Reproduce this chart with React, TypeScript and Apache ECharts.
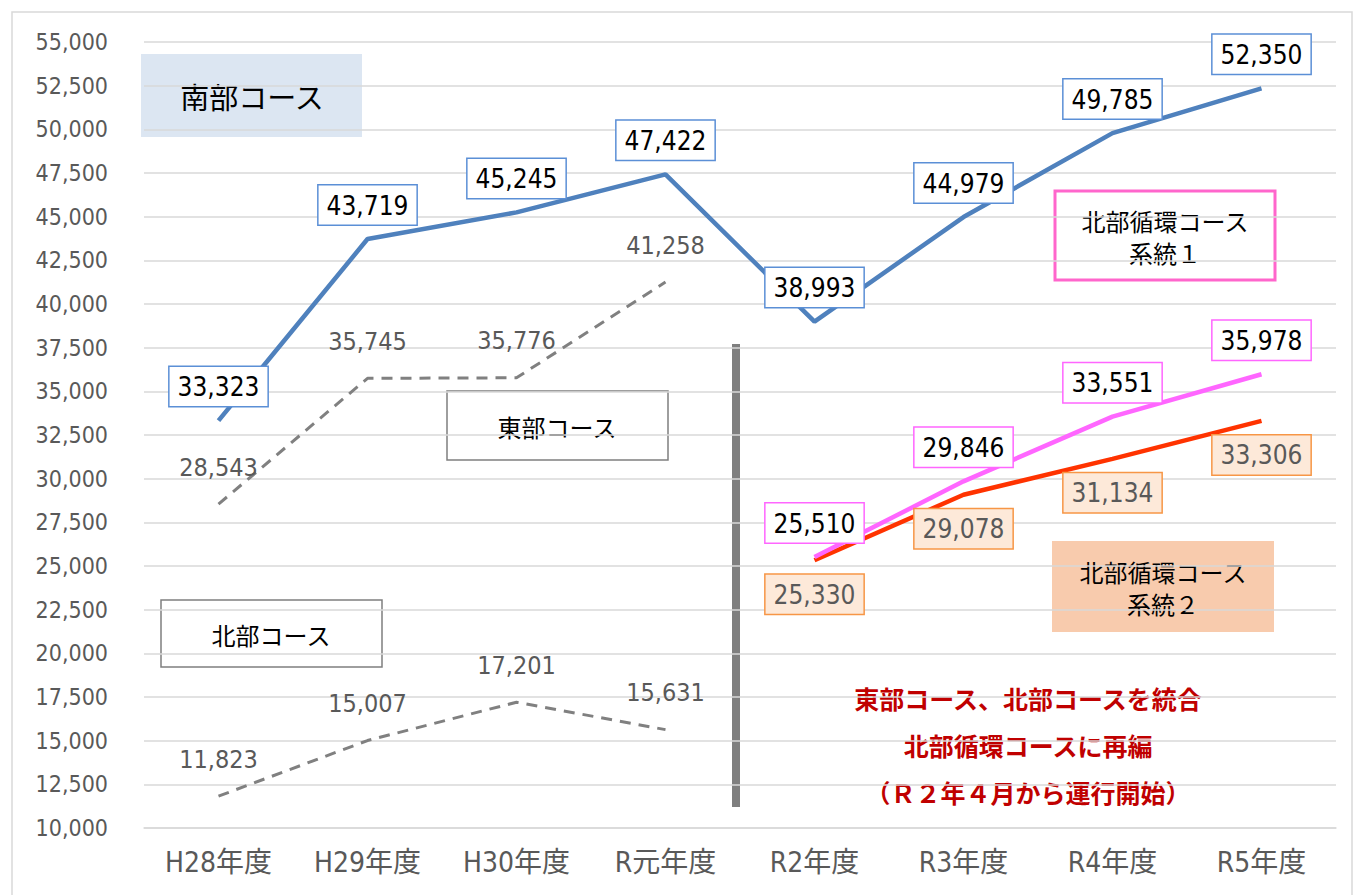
import React, { useEffect, useRef } from "react";
import * as echarts from "echarts";

const categories = ["H28年度", "H29年度", "H30年度", "R元年度", "R2年度", "R3年度", "R4年度", "R5年度"];
const nanbu = [33323, 43719, 45245, 47422, 38993, 44979, 49785, 52350];
const toubu = [28543, 35745, 35776, 41258, "-", "-", "-", "-"];
const hokubu = [11823, 15007, 17201, 15631, "-", "-", "-", "-"];
const keitou1 = ["-", "-", "-", "-", 25510, 29846, 33551, 35978];
const keitou2 = ["-", "-", "-", "-", 25330, 29078, 31134, 33306];

const NUM_FONT = "'Liberation Sans Narrow', 'DejaVu Sans Condensed', 'Noto Sans CJK JP', sans-serif";
const JP_FONT = "'Noto Sans CJK JP', sans-serif";

const fmt = (v: number) => Number(v).toLocaleString("en-US");

export default function App() {
  const ref = useRef<HTMLDivElement>(null);
  useEffect(() => {
    document.body.style.margin = "0";
    const chart = echarts.init(ref.current!, undefined, { renderer: "svg" });
    const boxLabel = (border: string, bg: string, color: string, pos: "top" | "bottom") => ({
      show: true,
      position: pos,
      distance: 14,
      formatter: (p: any) => fmt(p.value),
      backgroundColor: bg,
      borderColor: border,
      borderWidth: 1.5,
      padding: [7, 8, 6, 8],
      color,
      fontSize: 26,
      fontFamily: NUM_FONT,
    });
    const plainLabel = {
      show: true,
      position: "top" as const,
      distance: 24,
      formatter: (p: any) => fmt(p.value),
      color: "#595959",
      fontSize: 25,
      fontFamily: NUM_FONT,
    };
    const sym = { showSymbol: true, symbol: "circle", symbolSize: 1, itemStyle: { color: "rgba(0,0,0,0)" } };
    chart.setOption({
      animation: false,
      backgroundColor: "#fff",
      grid: { left: 144, right: 18, top: 42, bottom: 67 },
      xAxis: {
        type: "category",
        data: categories,
        boundaryGap: true,
        axisLine: { show: true, lineStyle: { color: "#d9d9d9", width: 1.5 } },
        axisTick: { show: false },
        axisLabel: { color: "#595959", fontSize: 28, fontFamily: NUM_FONT, margin: 20 },
      },
      yAxis: {
        type: "value",
        min: 10000,
        max: 55000,
        interval: 2500,
        axisLine: { show: false },
        axisTick: { show: false },
        splitLine: { lineStyle: { color: "#d9d9d9", width: 1.5 } },
        axisLabel: {
          color: "#595959",
          fontSize: 23,
          fontFamily: NUM_FONT,
          margin: 36,
          formatter: (v: number) => fmt(v),
        },
      },
      series: [
        {
          name: "東部",
          type: "line",
          data: toubu,
          ...sym,
          lineStyle: { color: "#808080", width: 3, type: [11, 8] },
          label: plainLabel,
        },
        {
          name: "北部",
          type: "line",
          data: hokubu,
          ...sym,
          lineStyle: { color: "#808080", width: 3, type: [11, 8] },
          label: plainLabel,
        },
        {
          name: "系統2",
          type: "line",
          data: keitou2,
          ...sym,
          lineStyle: { color: "#ff3300", width: 4.5 },
          label: boxLabel("#f79646", "#fde9d9", "#595959", "bottom"),
        },
        {
          name: "系統1",
          type: "line",
          data: keitou1,
          ...sym,
          lineStyle: { color: "#ff66ff", width: 4.5 },
          label: boxLabel("#ff66ff", "#ffffff", "#000000", "top"),
        },
        {
          name: "南部",
          type: "line",
          data: nanbu,
          ...sym,
          lineStyle: { color: "#4f81bd", width: 4.5 },
          label: boxLabel("#5b8fd6", "#ffffff", "#000000", "top"),
        },
      ],
      graphic: [
        {
          type: "rect",
          shape: { x: 12, y: 12, width: 1340, height: 900 },
          style: { fill: "none", stroke: "#d9d9d9", lineWidth: 1.5 },
          silent: true,
        },
        {
          type: "rect",
          shape: { x: 141, y: 54, width: 221, height: 83 },
          style: { fill: "#dce6f2" },
        },
        {
          type: "text",
          x: 252,
          y: 96,
          style: { text: "南部コース", fill: "#000", fontSize: 29, fontFamily: JP_FONT, align: "center", verticalAlign: "middle" },
        },
        {
          type: "rect",
          shape: { x: 447, y: 391, width: 221, height: 69 },
          style: { fill: "#fff", stroke: "#7f7f7f", lineWidth: 1.5 },
        },
        {
          type: "text",
          x: 557,
          y: 426,
          style: { text: "東部コース", fill: "#000", fontSize: 24, fontFamily: JP_FONT, align: "center", verticalAlign: "middle" },
        },
        {
          type: "rect",
          shape: { x: 161, y: 600, width: 221, height: 67 },
          style: { fill: "#fff", stroke: "#7f7f7f", lineWidth: 1.5 },
        },
        {
          type: "text",
          x: 271,
          y: 634,
          style: { text: "北部コース", fill: "#000", fontSize: 24, fontFamily: JP_FONT, align: "center", verticalAlign: "middle" },
        },
        {
          type: "rect",
          shape: { x: 1055, y: 191, width: 220, height: 89 },
          style: { fill: "#fff", stroke: "#ff66cc", lineWidth: 3 },
        },
        {
          type: "text",
          x: 1165,
          y: 236,
          style: {
            text: "北部循環コース\n系統１",
            fill: "#000",
            fontSize: 24,
            lineHeight: 32,
            fontFamily: JP_FONT,
            align: "center",
            verticalAlign: "middle",
          },
        },
        {
          type: "rect",
          shape: { x: 1052, y: 541, width: 222, height: 91 },
          style: { fill: "#f8cbad" },
        },
        {
          type: "text",
          x: 1163,
          y: 587,
          style: {
            text: "北部循環コース\n系統２",
            fill: "#000",
            fontSize: 24,
            lineHeight: 32,
            fontFamily: JP_FONT,
            align: "center",
            verticalAlign: "middle",
          },
        },
        {
          type: "rect",
          shape: { x: 732, y: 344, width: 8, height: 463 },
          style: { fill: "#7f7f7f" },
        },
        {
          type: "text",
          x: 1028,
          y: 745,
          style: {
            text: "東部コース、北部コースを統合\n北部循環コースに再編\n（Ｒ２年４月から運行開始）",
            fill: "#c00000",
            fontSize: 25,
            fontWeight: "bold",
            lineHeight: 47,
            fontFamily: JP_FONT,
            align: "center",
            verticalAlign: "middle",
          },
        },
      ],
    });
    return () => chart.dispose();
  }, []);
  return <div ref={ref} style={{ width: 1354, height: 895 }} />;
}
